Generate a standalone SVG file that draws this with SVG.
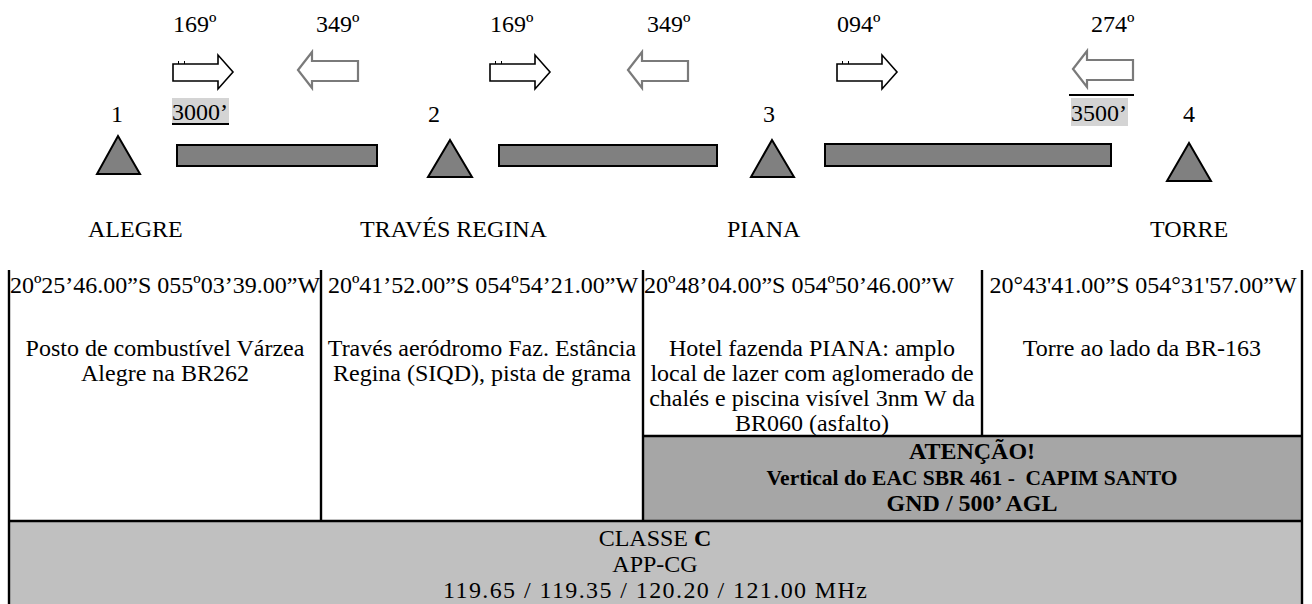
<svg xmlns="http://www.w3.org/2000/svg" xmlns:xlink="http://www.w3.org/1999/xlink" width="1312" height="604" viewBox="0 0 1312 604">
<style>
text{font-family:"Liberation Serif","Times New Roman",serif;font-size:24px;fill:#000}
.c{text-anchor:middle}
.b{font-weight:bold}
.tri,.bar{fill:#808080;stroke:#000;stroke-width:2}
.ra{fill:#fff;stroke:#000;stroke-width:1.6;stroke-linejoin:miter}
.la{fill:#fff;stroke:#7a7a7a;stroke-width:2.2}
.tk{stroke:#000;stroke-width:1}
.vl{stroke:#000;stroke-width:2.4}
</style>
<defs>
<g id="rarrow"><path class="ra" d="M0,9 H45 V0 L60,17 L45,34 V26 H0 Z"/><line class="tk" x1="5.5" y1="6" x2="5.5" y2="9"/><line class="tk" x1="11.5" y1="6" x2="11.5" y2="9"/></g>
<path id="larrow" class="la" d="M0,18 L14,0 V9 H60 V29 H14 V36 Z"/>
</defs>
<rect width="1312" height="604" fill="#fff"/>

<g id="headings">
<text x="173" y="32">169º</text>
<text x="316" y="32">349º</text>
<text x="490" y="32">169º</text>
<text x="647" y="32">349º</text>
<text x="837" y="32">094º</text>
<text x="1091" y="32">274º</text>
</g>

<g id="connectors">
<use xlink:href="#rarrow" x="173" y="55"/>
<use xlink:href="#larrow" x="298" y="52"/>
<use xlink:href="#rarrow" x="490" y="55"/>
<use xlink:href="#larrow" x="628" y="52"/>
<use xlink:href="#rarrow" x="837" y="55"/>
<use xlink:href="#larrow" x="1073" y="51"/>
</g>

<g id="alt1">
<rect x="172" y="98" width="57" height="26" fill="#d4d4d4"/>
<text x="172" y="120">3000’</text>
<line x1="172" y1="124" x2="229" y2="124" stroke="#000" stroke-width="2"/>
</g>
<g id="alt2">
<line x1="1069" y1="95" x2="1134" y2="95" stroke="#000" stroke-width="2"/>
<rect x="1071" y="98" width="57" height="28" fill="#d4d4d4"/>
<text x="1071" y="121">3500’</text>
</g>

<g id="wp1">
<text x="111" y="122">1</text>
<polygon class="tri" points="118,136 140,174 97,174"/>
<text x="88" y="237">ALEGRE</text>
</g>
<g id="leg1"><rect class="bar" x="177" y="145" width="200" height="21"/></g>
<g id="wp2">
<text x="428" y="122">2</text>
<polygon class="tri" points="450,140 472,177 428,177"/>
<text x="360" y="237">TRAVÉS REGINA</text>
</g>
<g id="leg2"><rect class="bar" x="499" y="145" width="218" height="21"/></g>
<g id="wp3">
<text x="763" y="122">3</text>
<polygon class="tri" points="772,140 794,177 751,177"/>
<text x="727" y="237">PIANA</text>
</g>
<g id="leg3"><rect class="bar" x="825" y="144" width="286" height="22"/></g>
<g id="wp4">
<text x="1183" y="122">4</text>
<polygon class="tri" points="1189,143 1211,181 1167,181"/>
<text x="1150" y="237">TORRE</text>
</g>

<g id="table">
<rect x="643" y="436" width="659" height="85" fill="#a6a6a6"/>
<rect x="9" y="521" width="1293" height="83" fill="#c0c0c0"/>
<line class="vl" x1="9" y1="270" x2="9" y2="604"/>
<line class="vl" x1="321" y1="270" x2="321" y2="521"/>
<line class="vl" x1="643" y1="270" x2="643" y2="521"/>
<line class="vl" x1="982" y1="270" x2="982" y2="436"/>
<line class="vl" x1="1302" y1="270" x2="1302" y2="604"/>
<line class="vl" x1="643" y1="436" x2="1302" y2="436"/>
<line class="vl" x1="9" y1="521" x2="1302" y2="521"/>
</g>

<g id="cell1">
<text class="c" x="165" y="293">20º25’46.00”S 055º03’39.00”W</text>
<text class="c" x="165" y="356">Posto de combustível Várzea</text>
<text class="c" x="165" y="381">Alegre na BR262</text>
</g>
<g id="cell2">
<text class="c" x="483" y="293">20º41’52.00”S 054º54’21.00”W</text>
<text class="c" x="482" y="356">Través aeródromo Faz. Estância</text>
<text class="c" x="482" y="381">Regina (SIQD), pista de grama</text>
</g>
<g id="cell3">
<text x="644" y="293">20º48’04.00”S 054º50’46.00”W</text>
<text class="c" x="812" y="356">Hotel fazenda PIANA: amplo</text>
<text class="c" x="812" y="381">local de lazer com aglomerado de</text>
<text class="c" x="812" y="406">chalés e piscina visível 3nm W da</text>
<text class="c" x="812" y="431">BR060 (asfalto)</text>
</g>
<g id="cell4">
<text class="c" x="1143" y="293">20°43'41.00”S 054°31'57.00”W</text>
<text class="c" x="1142" y="356">Torre ao lado da BR-163</text>
</g>
<g id="attention">
<text class="c b" x="972" y="459">ATENÇÃO!</text>
<text class="c b" x="972" y="485" style="font-size:21.5px" xml:space="preserve">Vertical do EAC SBR 461 -  CAPIM SANTO</text>
<text class="c b" x="972" y="511">GND / 500’ AGL</text>
</g>
<g id="airspace">
<text class="c" x="655" y="546">CLASSE <tspan class="b">C</tspan></text>
<text class="c" x="655" y="572">APP-CG</text>
<text class="c" x="655" y="598" textLength="424" lengthAdjust="spacing">119.65 / 119.35 / 120.20 / 121.00 MHz</text>
</g>
</svg>
